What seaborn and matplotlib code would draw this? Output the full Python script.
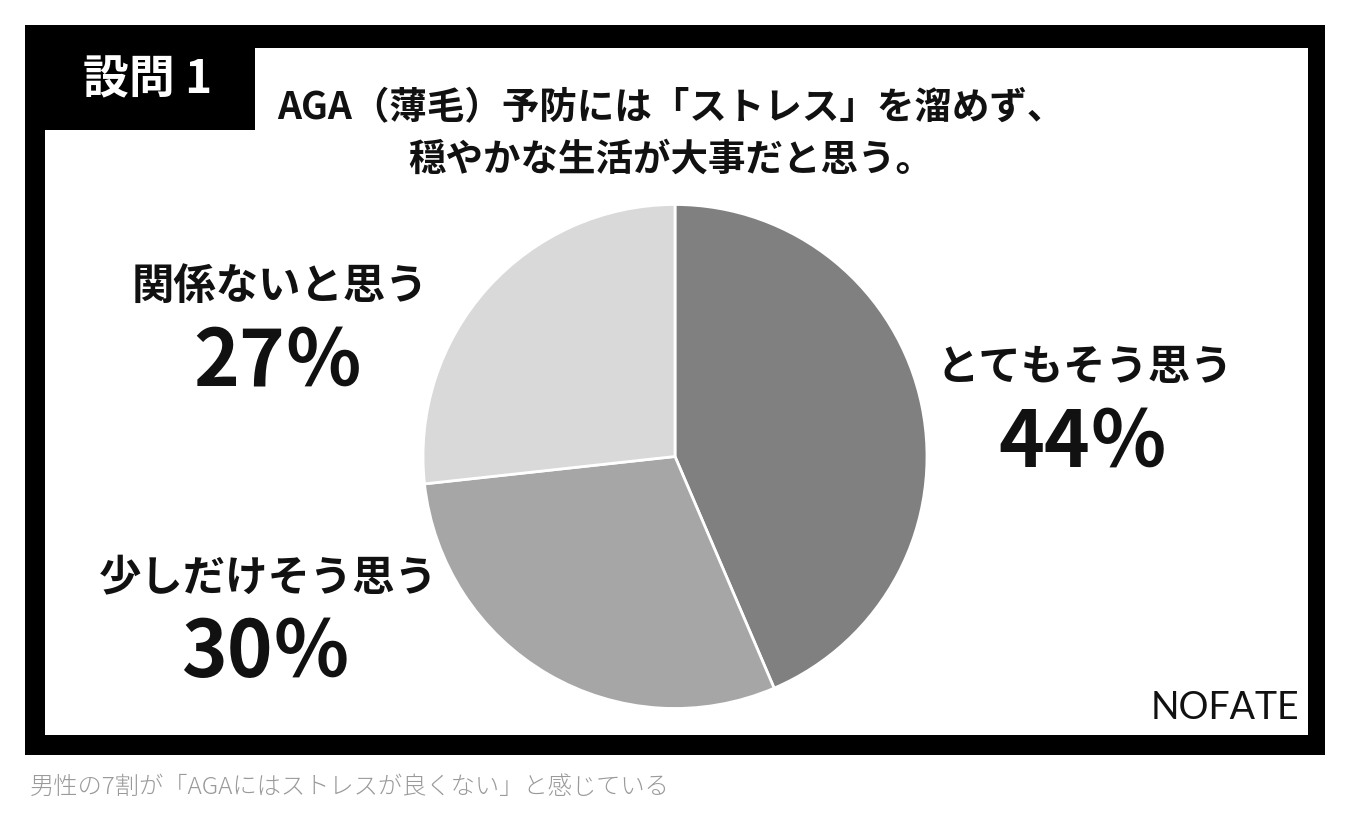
import matplotlib
matplotlib.use('Agg')

import matplotlib.pyplot as plt
import matplotlib.patches as patches
import seaborn as sns

# données du graphique
categories = ["とてもそう思う", "少しだけそう思う", "関係ないと思う"]
values = [44, 30, 27]
colors = ["#808080", "#a6a6a6", "#d9d9d9"]
title_lines = ["AGA（薄毛）予防には「ストレス」を溜めず、", "穏やかな生活が大事だと思う。"]
question = "設問 1"
caption = "男性の7割が「AGAにはストレスが良くない」と感じている"
brand = "NOFATE"

sns.set_theme(style="white")
plt.rcParams['font.family'] = ['Noto Sans CJK JP', 'DejaVu Sans']

W, H = 1350, 824
fig = plt.figure(figsize=(W / 100, H / 100), dpi=100)
fig.patch.set_facecolor("white")


def fx(x):
    return x / W


def fy(y):
    return 1 - y / H


def rect(x0, y0, x1, y1, color, z):
    fig.patches.append(patches.Rectangle((fx(x0), fy(y1)), fx(x1) - fx(x0), fy(y0) - fy(y1),
                                         transform=fig.transFigure, facecolor=color,
                                         edgecolor="none", zorder=z))


# cadre noir
rect(25, 25, 1325, 755, "black", -3)
rect(45, 48, 1308, 735, "white", -2)
rect(25, 25, 255, 130, "black", -1)

fig.text(fx(148), fy(80), question, color="white", fontsize=33, fontweight="bold",
         ha="center", va="center")

for i, line in enumerate(title_lines):
    fig.text(fx(671), fy(108 + i * 51), line, fontsize=27, fontweight="bold",
             ha="center", va="center", color="#111111")

# camembert
cx, cy, r = 675, 456.5, 252
ax = fig.add_axes([fx(cx - r), fy(cy + r), 2 * r / W, 2 * r / H])
ax.set_zorder(1)
wedges, _ = ax.pie(values, colors=colors, startangle=90, counterclock=False,
                   wedgeprops=dict(edgecolor="white", linewidth=2), radius=1)
for w in wedges:
    w.set_clip_on(False)
ax.set_xlim(-1.0, 1.0)
ax.set_ylim(-1.0, 1.0)
ax.set_aspect("equal")
ax.axis("off")

label_pos = [(1085, 368), (268, 578), (280, 287)]
for (lx, ly), cat, v in zip(label_pos, categories, values):
    fig.text(fx(lx), fy(ly), cat, fontsize=30.5, fontweight="bold", ha="center", va="center",
             color="#111111")
    fig.text(fx(lx - 2), fy(ly + 76), f"{v}％", fontsize=56, fontweight="bold",
             ha="center", va="center", color="#111111")

fig.text(fx(1299), fy(708), brand, fontsize=27, family="Lato",
         ha="right", va="center", color="#111111")

fig.text(fx(30), fy(787), caption, fontsize=17.5, fontweight="light",
         ha="left", va="center", color="#9a9a9a")

fig.savefig("out.png", dpi=100, facecolor="white")
plt.close(fig)
